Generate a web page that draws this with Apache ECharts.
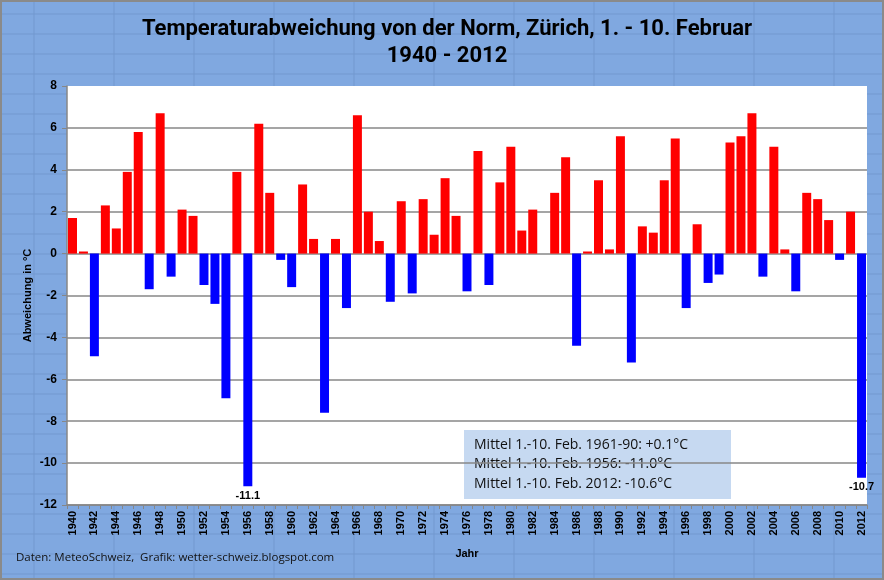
<!DOCTYPE html>
<html>
<head>
<meta charset="utf-8">
<script src="https://cdn.jsdelivr.net/npm/echarts@6/dist/echarts.min.js"></script>
<style>
  html, body { margin: 0; padding: 0; background: #80a8e0; }
  #chart { width: 884px; height: 580px; }
</style>
</head>
<body>
<div id="chart"></div>
<script>
const years = [];
for (let y = 1940; y <= 2012; y++) years.push(String(y));

// Abweichung in °C
const values = [
  1.7, 0.1, -4.9, 2.3, 1.2, 3.9, 5.8, -1.7, 6.7, -1.1,
  2.1, 1.8, -1.5, -2.4, -6.9, 3.9, -11.1, 6.2, 2.9, -0.3,
  -1.6, 3.3, 0.7, -7.6, 0.7, -2.6, 6.6, 2.0, 0.6, -2.3,
  2.5, -1.9, 2.6, 0.9, 3.6, 1.8, -1.8, 4.9, -1.5, 3.4,
  5.1, 1.1, 2.1, 0, 2.9, 4.6, -4.4, 0.1, 3.5, 0.2,
  5.6, -5.2, 1.3, 1.0, 3.5, 5.5, -2.6, 1.4, -1.4, -1.0,
  5.3, 5.6, 6.7, -1.1, 5.1, 0.2, -1.8, 2.9, 2.6, 1.6,
  -0.3, 2.0, -10.7
];

const labeledYears = ['1956', '2012'];

const infoLines = [
  'Mittel 1.-10. Feb. 1961-90: +0.1°C',
  'Mittel 1.-10. Feb. 1956: -11.0°C',
  'Mittel 1.-10. Feb. 2012: -10.6°C'
];

const chart = echarts.init(document.getElementById('chart'));

const seriesData = values.map((v, i) => {
  const item = {
    value: v,
    itemStyle: { color: v >= 0 ? '#ff0000' : '#0000ff' }
  };
  if (labeledYears.includes(years[i])) {
    item.label = {
      show: true,
      position: 'bottom',
      distance: 4,
      color: '#000',
      fontWeight: 'bold',
      fontSize: 11,
      fontFamily: 'Liberation Sans'
    };
  }
  return item;
});

// Tabellen-Raster im Hintergrund
const bgLines = [];
for (let y = 14; y < 580; y += 20) {
  bgLines.push({ type: 'line', z: -100, shape: { x1: 0, y1: y, x2: 884, y2: y },
    style: { stroke: '#7298cf', lineWidth: 1 }, silent: true });
}
for (let x = 34; x < 884; x += 80) {
  bgLines.push({ type: 'line', z: -100, shape: { x1: x, y1: 0, x2: x, y2: 580 },
    style: { stroke: '#7298cf', lineWidth: 1 }, silent: true });
}

const gridColors = [];
for (let i = 0; i < 10; i++) gridColors.push('#878787');
gridColors.push('rgba(0,0,0,0)');

const option = {
  backgroundColor: '#80a8e0',
  animation: false,
  title: {
    text: 'Temperaturabweichung von der Norm, Zürich, 1. - 10. Februar\n1940 - 2012',
    left: 442,
    top: 11,
    textAlign: 'center',
    textStyle: {
      fontFamily: 'Roboto',
      fontWeight: 'bold',
      fontSize: 22,
      lineHeight: 27,
      color: '#000'
    }
  },
  grid: {
    left: 67,
    right: 17,
    top: 86,
    bottom: 75,
    show: true,
    backgroundColor: '#ffffff',
    borderWidth: 0
  },
  xAxis: {
    type: 'category',
    data: years,
    name: 'Jahr',
    nameLocation: 'middle',
    nameGap: 43,
    nameMoveOverlap: false,
    nameTextStyle: { fontFamily: 'Liberation Sans', fontWeight: 'bold', fontSize: 11, color: '#000' },
    axisLine: { onZero: false, lineStyle: { color: '#878787', width: 1.5 } },
    axisTick: { show: true, interval: 0, length: 4, lineStyle: { color: '#878787' } },
    axisLabel: {
      interval: 1,
      rotate: 90,
      margin: 6,
      fontFamily: 'Liberation Sans',
      fontWeight: 'bold',
      fontSize: 11,
      color: '#000'
    },
    splitLine: { show: false }
  },
  yAxis: {
    type: 'value',
    min: -12,
    max: 8,
    interval: 2,
    name: 'Abweichung in °C',
    nameLocation: 'middle',
    nameGap: 34,
    nameMoveOverlap: false,
    nameTextStyle: { fontFamily: 'Liberation Sans', fontWeight: 'bold', fontSize: 11, color: '#000' },
    axisLine: { show: true, lineStyle: { color: '#878787', width: 1.5 } },
    axisTick: { show: true, length: 5, lineStyle: { color: '#878787' } },
    axisLabel: {
      margin: 10,
      fontFamily: 'Liberation Sans',
      fontWeight: 'bold',
      fontSize: 12,
      color: '#000'
    },
    splitLine: { show: true, lineStyle: { color: gridColors, width: 1.5 } }
  },
  series: [
    {
      type: 'bar',
      data: seriesData,
      barCategoryGap: '18%'
    }
  ],
  graphic: [
    ...bgLines,
    {
      type: 'group',
      left: 464,
      top: 430,
      z: 100,
      children: [
        { type: 'rect', shape: { x: 0, y: 0, width: 267, height: 69 },
          style: { fill: '#c6d9f1' } },
        ...infoLines.map((t, i) => ({
          type: 'text',
          x: 10,
          y: 15 + i * 19.5,
          style: {
            text: t,
            fill: '#111',
            font: '14px "Open Sans"',
            verticalAlign: 'middle'
          }
        }))
      ]
    },
    {
      type: 'text',
      left: 16,
      top: 552,
      style: {
        text: 'Daten: MeteoSchweiz,  Grafik: wetter-schweiz.blogspot.com',
        fill: '#111',
        font: '11.5px "Open Sans"'
      }
    },
    {
      type: 'rect',
      z: 100,
      shape: { x: 1, y: 1, width: 882, height: 578 },
      style: { fill: 'none', stroke: '#8a8a8a', lineWidth: 2 },
      silent: true
    }
  ]
};

chart.setOption(option);
</script>
</body>
</html>
